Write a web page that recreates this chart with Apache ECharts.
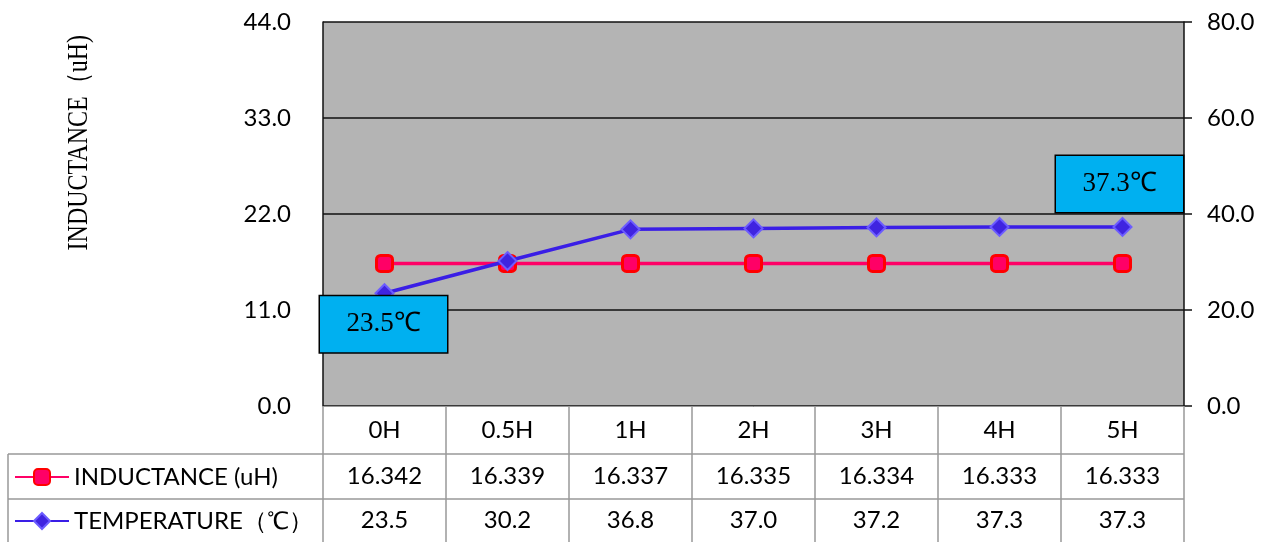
<!DOCTYPE html>
<html><head><meta charset="utf-8">
<script src="https://cdn.jsdelivr.net/npm/echarts@6/dist/echarts.min.js"></script>
<style>html,body{margin:0;padding:0;background:#fff}#c{width:1271px;height:542px}</style>
</head><body><div id="c"></div>
<script>
const categories = ['0H','0.5H','1H','2H','3H','4H','5H'];
const inductance = [16.342,16.339,16.337,16.335,16.334,16.333,16.333];
const temperature = [23.5,30.2,36.8,37.0,37.2,37.3,37.3];
const leftTicks = {min:0,max:44,interval:11};
const rightTicks = {min:0,max:80,interval:20};
const seriesNames = ['INDUCTANCE (uH)','TEMPERATURE（℃）'];
const leftAxisName = 'INDUCTANCE（uH)';

const SANS = 'Lato';
const SERIF = 'Liberation Serif';
const TABLE = '#999999';
const FS = 24;

const chart = echarts.init(document.getElementById('c'), null, {renderer:'canvas'});

function callout(offset){
  return {show:true, position:'inside', offset:offset,
    formatter: p => p.value.toFixed(1)+'℃',
    width:127, height:56, lineHeight:56, padding:0,
    backgroundColor:'#00B0F0', borderColor:'#000', borderWidth:1.5,
    align:'center', verticalAlign:'middle',
    fontFamily:SERIF, fontSize:27, color:'#000'};
}
const tempData = temperature.map((v,i)=>{
  const d = {value:v};
  if(i===0) d.label = callout([-1,31]);
  if(i===temperature.length-1) d.label = callout([-3,-43]);
  return d;
});

const tableAxis = (data, offset) => ({
  type:'category', data:data, position:'bottom', offset:offset,
  axisLine:{show:false}, axisTick:{show:false},
  axisLabel:{interval:0, margin:12, fontFamily:SANS, fontSize:FS, color:'#000'}
});

chart.setOption({
  animation:false,
  grid:{left:323, right:87, top:22, bottom:136, show:true, backgroundColor:'#B4B4B4', borderWidth:0},
  legend:{orient:'vertical', left:14, top:465, padding:0, itemWidth:54, itemHeight:20, itemGap:20,
    textStyle:{fontFamily:SANS, fontSize:FS, color:'#000', lineHeight:24},
    data:seriesNames},
  xAxis:[
    {type:'category', data:categories, boundaryGap:true,
     axisLine:{lineStyle:{color:TABLE, width:1}},
     axisTick:{show:true, interval:0, length:136, inside:false, lineStyle:{color:TABLE, width:1.5}},
     axisLabel:{interval:0, margin:12, fontFamily:SANS, fontSize:FS, color:'#000'}},
    tableAxis(inductance.map(v=>v.toFixed(3)), 46),
    tableAxis(temperature.map(v=>v.toFixed(1)), 90)
  ],
  yAxis:[
    {type:'value', min:leftTicks.min, max:leftTicks.max, interval:leftTicks.interval, position:'left',
     axisLine:{show:true, lineStyle:{color:'#111', width:1.5}}, axisTick:{show:false},
     axisLabel:{margin:32, fontFamily:SANS, fontSize:FS, color:'#000', formatter:v=>v.toFixed(1)},
     splitLine:{show:true, lineStyle:{color:'#111', width:1.5}}},
    {type:'value', min:rightTicks.min, max:rightTicks.max, interval:rightTicks.interval, position:'right',
     axisLine:{show:true, lineStyle:{color:'#111', width:1.5}},
     axisTick:{show:true, inside:false, length:8, lineStyle:{color:'#111', width:1.5}},
     axisLabel:{margin:23, fontFamily:SANS, fontSize:FS, color:'#000', formatter:v=>v.toFixed(1)},
     splitLine:{show:false}}
  ],
  graphic:[
    {type:'line', shape:{x1:8,y1:454,x2:323,y2:454}, style:{stroke:TABLE, lineWidth:1.5}, silent:true},
    {type:'line', shape:{x1:323,y1:454,x2:1184,y2:454}, style:{stroke:TABLE, lineWidth:1.5}, silent:true},
    {type:'line', shape:{x1:8,y1:499,x2:1184,y2:499}, style:{stroke:TABLE, lineWidth:1.5}, silent:true},
    {type:'line', shape:{x1:8,y1:454,x2:8,y2:542}, style:{stroke:TABLE, lineWidth:1.5}, silent:true},
    {type:'text', left:65, top:35, rotation:Math.PI/2, scaleY:1.2,
     style:{text:leftAxisName, fontFamily:SERIF, fontSize:24, fill:'#000'}, silent:true}
  ],
  series:[
    {name:seriesNames[0], type:'line', xAxisIndex:0, yAxisIndex:0, data:inductance,
     symbol:'roundRect', symbolSize:16, z:3,
     lineStyle:{color:'#FF0066', width:3.5},
     itemStyle:{color:'#FF0066', borderColor:'#FF0000', borderWidth:3}},
    {name:seriesNames[1], type:'line', xAxisIndex:0, yAxisIndex:1, data:tempData,
     symbol:'diamond', symbolSize:18, z:4,
     lineStyle:{color:'#3A1EE6', width:3.5},
     itemStyle:{color:'#3F24E0', borderColor:'#6C5CFF', borderWidth:2},
     label:{show:false}}
  ]
});
</script></body></html>
